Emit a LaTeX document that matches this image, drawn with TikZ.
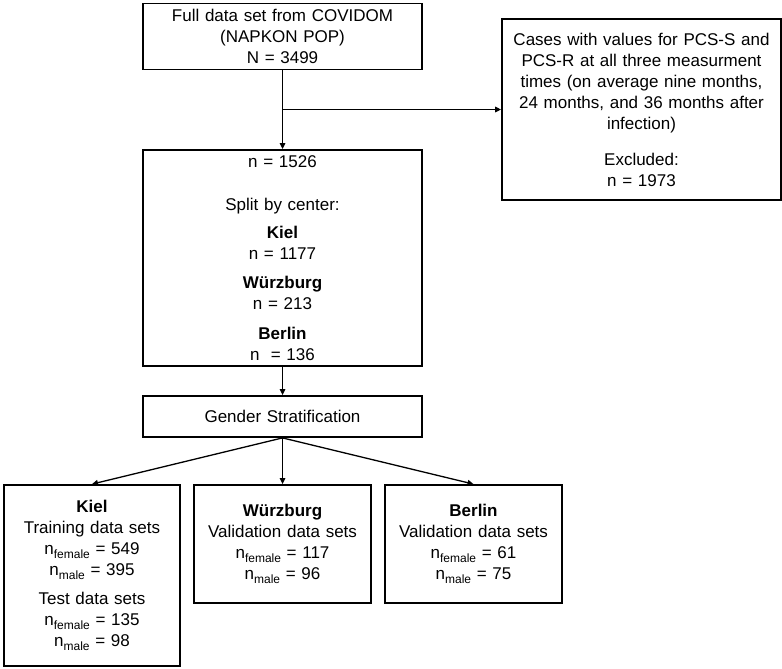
\documentclass[tikz,border=0pt]{standalone}
\usepackage{fontspec}
\setmainfont{Liberation Sans}
\usetikzlibrary{arrows.meta}
\setlength{\lineskiplimit}{-20pt}
\newcommand{\lowsub}[1]{\raisebox{-3.8pt}{\fontsize{12}{12}\selectfont #1}}
\begin{document}
\begin{tikzpicture}[x=1pt,y=-1pt,
  box/.style={draw=black, line width=1.8pt, rectangle, inner sep=0pt, align=center,
    font=\fontsize{17}{21}\selectfont},
  conn/.style={line width=1.3pt, -{Triangle[length=6pt,width=5.5pt]}},
  plain/.style={line width=1.3pt}]
\useasboundingbox (0,0) rectangle (782,669);
\node[box, minimum width=279pt, minimum height=66pt, text width=272pt] (top) at (282.5,36.5)
  {Full data set from COVIDOM\\(NAPKON POP)\\N = 3499};
\node[box, minimum width=279pt, minimum height=181pt, text width=274pt] (excl) at (641.5,109.5)
  {Cases with values for PCS-S and\\PCS-R at all three measurment\\times (on average nine months,\\24 months, and 36 months after\\infection)\\[15pt]Excluded:\\n = 1973};
\node[box, minimum width=279pt, minimum height=216pt, text width=272pt] (mid) at (282.5,258)
  {n = 1526\\[22pt]Split by center:\\[7pt]\textbf{Kiel}\\n = 1177\\[8pt]\textbf{Würzburg}\\n = 213\\[9pt]\textbf{Berlin}\\n\ \ = 136};
\node[box, minimum width=279pt, minimum height=41pt, text width=272pt] (gender) at (282.5,416.5)
  {Gender Stratification};
\node[box, minimum width=176pt, minimum height=181pt, text width=172pt] (kiel) at (92,575.5)
  {\textbf{Kiel}\\Training data sets\\n\lowsub{female} = 549\\n\lowsub{male} = 395\\[8pt]Test data sets\\n\lowsub{female} = 135\\n\lowsub{male} = 98};
\node[box, minimum width=177pt, minimum height=118pt, text width=172pt] (wurz) at (282.5,544)
  {\textbf{Würzburg}\\Validation data sets\\n\lowsub{female} = 117\\n\lowsub{male} = 96};
\node[box, minimum width=177pt, minimum height=118pt, text width=172pt] (berl) at (473.5,544)
  {\textbf{Berlin}\\Validation data sets\\n\lowsub{female} = 61\\n\lowsub{male} = 75};
\coordinate (branch) at (282.5,109.5);
\draw[conn] (top.south) -- (mid.north);
\draw[conn] (branch) -- (excl.west);
\draw[conn] (mid.south) -- (gender.north);
\draw[conn] (gender.south) -- (kiel.north);
\draw[conn] (gender.south) -- (wurz.north);
\draw[conn] (gender.south) -- (berl.north);
\end{tikzpicture}
\end{document}
